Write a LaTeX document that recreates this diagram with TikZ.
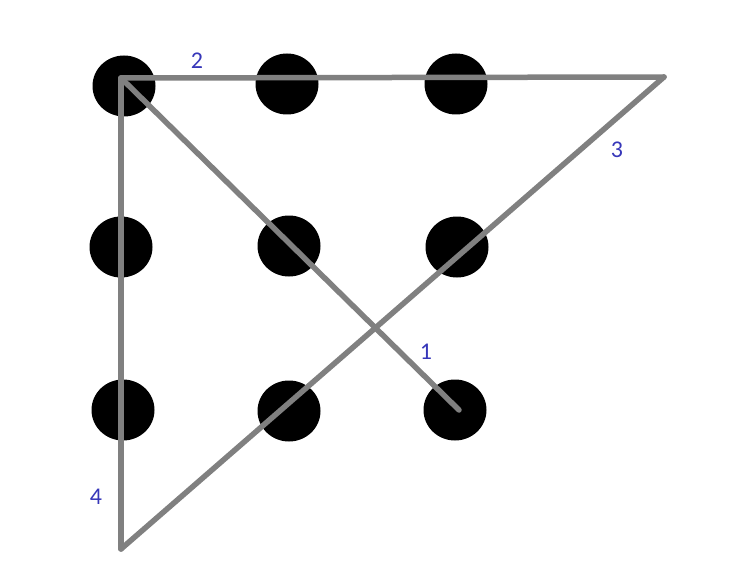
\documentclass[tikz,border=0pt]{standalone}
\usepackage{fontspec}
\setmainfont{Carlito}
\usetikzlibrary{shapes.geometric}
\begin{document}
\begin{tikzpicture}[x=1pt,y=-1pt,
  dot/.style={fill=black,draw=none,ellipse,minimum width=63pt,minimum height=61pt,inner sep=0pt},
  stroke/.style={draw=linegray,line width=5.5pt,line cap=round,line join=round},
  lab/.style={text=labblue,font=\fontsize{24}{24}\selectfont,inner sep=0pt}]
\definecolor{linegray}{RGB}{128,128,128}
\definecolor{labblue}{RGB}{55,55,185}
\useasboundingbox (0,0) rectangle (747,575);
% dots
\node[dot] (d11) at (124,86) {};
\node[dot] (d12) at (287,84) {};
\node[dot] (d13) at (456,84) {};
\node[dot] (d21) at (121,247) {};
\node[dot] (d22) at (289,246) {};
\node[dot] (d23) at (457,247) {};
\node[dot] (d31) at (123,410) {};
\node[dot] (d32) at (289,411) {};
\node[dot] (d33) at (455,410) {};
% path corners
\coordinate (p0) at (459,410);
\coordinate (p1) at (121,78);
\coordinate (p2) at (664,77);
\coordinate (p3) at (121,549);
\draw[stroke] (p0) -- (p1);
\draw[stroke] (p1) -- (p2);
\draw[stroke] (p2) -- (p3);
\draw[stroke] (p3) -- (p1);
% labels
\node[lab] (l1) at (426,352) {1};
\node[lab] (l2) at (197,61) {2};
\node[lab] (l3) at (617,150) {3};
\node[lab] (l4) at (96,497) {4};
\end{tikzpicture}
\end{document}
